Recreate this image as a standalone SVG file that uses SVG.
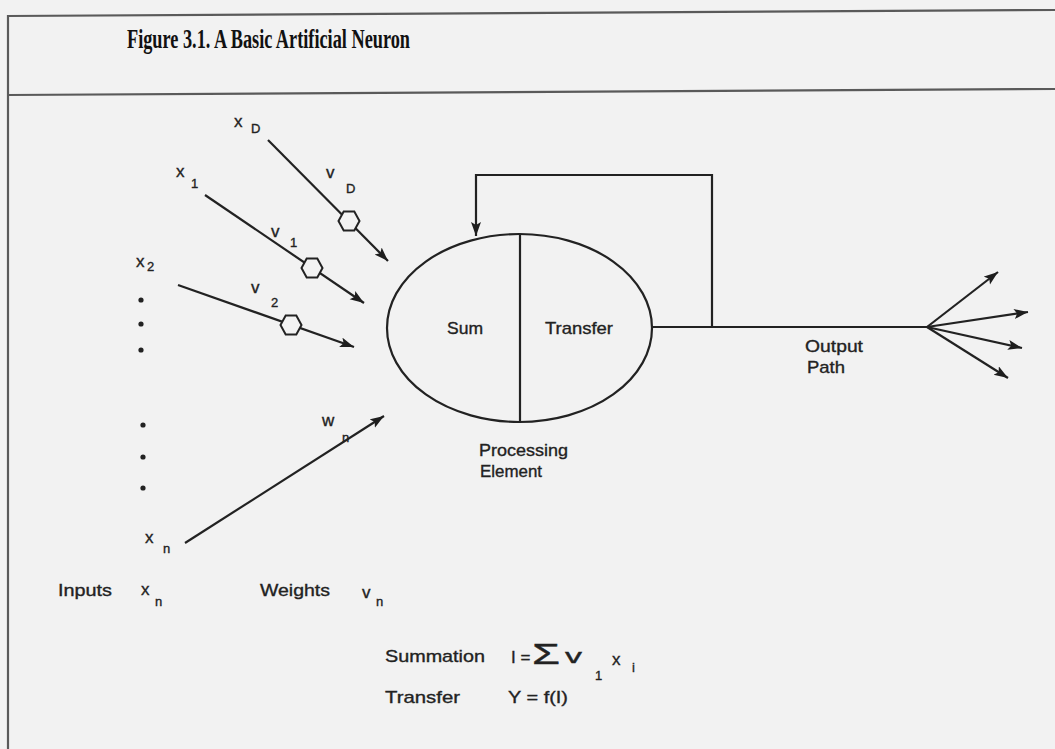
<svg xmlns="http://www.w3.org/2000/svg" width="1055" height="749" viewBox="0 0 1055 749">
<defs>
<marker id="arr" markerUnits="userSpaceOnUse" markerWidth="16" markerHeight="12" refX="14" refY="5" orient="auto">
<path d="M0,0 L14,5 L0,10 L3,5 z" fill="#1e1e1e"/>
</marker>
<style>
.bg{fill:#f2f2f2}
.frame{stroke:#5a5a5a;stroke-width:2.2;fill:none}
.ln{stroke:#222;stroke-width:2.2;fill:none}
.hex{fill:#f2f2f2;stroke:#222;stroke-width:2}
.t{font-family:"Liberation Sans",Arial,sans-serif;font-size:17px;fill:#222;stroke:#222;stroke-width:0.35}
.sym{font-family:"Liberation Sans",Arial,sans-serif;font-size:17px;fill:#222;stroke:#222;stroke-width:0.35}
.sub{font-family:"Liberation Sans",Arial,sans-serif;font-size:13px;fill:#222;stroke:#222;stroke-width:0.35}
.title{font-family:"Liberation Serif","Times New Roman",serif;font-size:28px;font-weight:bold;fill:#111}
.dot{fill:#222}
</style>
</defs>
<rect class="bg" x="0" y="0" width="1055" height="749"/>
<g id="frame">
<line class="frame" x1="8" y1="16" x2="1055" y2="10"/>
<line class="frame" x1="8" y1="95" x2="1055" y2="89"/>
<line class="frame" x1="8" y1="15" x2="8" y2="749"/>
</g>
<g id="title"><text class="title" x="127" y="48" textLength="283" lengthAdjust="spacingAndGlyphs">Figure 3.1. A Basic Artificial Neuron</text></g>

<g id="connectors">
<line class="ln" x1="268" y1="140" x2="388" y2="261" marker-end="url(#arr)"/>
<line class="ln" x1="205" y1="195" x2="364" y2="303" marker-end="url(#arr)"/>
<line class="ln" x1="178" y1="285" x2="354" y2="347" marker-end="url(#arr)"/>
<line class="ln" x1="185" y1="543" x2="384" y2="416" marker-end="url(#arr)"/>
<polyline class="ln" points="652,327 712,327 712,175 476,175 476,236" marker-end="url(#arr)"/>
<line class="ln" x1="712" y1="327" x2="927" y2="327"/>
<line class="ln" x1="927" y1="327" x2="998" y2="272" marker-end="url(#arr)"/>
<line class="ln" x1="927" y1="327" x2="1028" y2="312" marker-end="url(#arr)"/>
<line class="ln" x1="927" y1="327" x2="1022" y2="348" marker-end="url(#arr)"/>
<line class="ln" x1="927" y1="327" x2="1008" y2="378" marker-end="url(#arr)"/>
</g>

<g id="weight-0"><polygon class="hex" points="359.5,221 354.3,230.5 343.7,230.5 338.5,221 343.7,211.5 354.3,211.5"/></g>
<g id="weight-1"><polygon class="hex" points="322.5,268 317.3,277.5 306.7,277.5 301.5,268 306.7,258.5 317.3,258.5"/></g>
<g id="weight-2"><polygon class="hex" points="301.5,325 296.3,334.5 285.7,334.5 280.5,325 285.7,315.5 296.3,315.5"/></g>

<g id="processing-element">
<ellipse class="ln" cx="519.5" cy="328" rx="132.5" ry="94"/>
<line class="ln" x1="520" y1="234" x2="520" y2="422"/>
<text class="t" x="447" y="334" textLength="36" lengthAdjust="spacingAndGlyphs">Sum</text>
<text class="t" x="545" y="334" textLength="68" lengthAdjust="spacingAndGlyphs">Transfer</text>
<text class="t" x="479" y="456" textLength="89" lengthAdjust="spacingAndGlyphs">Processing</text>
<text class="t" x="480" y="477" textLength="62" lengthAdjust="spacingAndGlyphs">Element</text>
</g>

<g id="input-labels">
<text class="sym" x="234" y="127">x</text><text class="sub" x="251" y="133">D</text>
<text class="sym" x="326" y="178">v</text><text class="sub" x="346" y="193">D</text>
<text class="sym" x="176" y="177">x</text><text class="sub" x="191" y="188">1</text>
<text class="sym" x="271" y="237">v</text><text class="sub" x="290" y="247">1</text>
<text class="sym" x="136" y="267">x</text><text class="sub" x="147" y="271">2</text>
<text class="sym" x="251" y="293">v</text><text class="sub" x="271" y="307">2</text>
<text class="sym" x="322" y="426">w</text><text class="sub" x="342" y="442">n</text>
<text class="sym" x="145" y="543">x</text><text class="sub" x="163" y="553">n</text>
<circle class="dot" cx="141" cy="300" r="2.6"/>
<circle class="dot" cx="141" cy="324" r="2.6"/>
<circle class="dot" cx="141" cy="350" r="2.6"/>
<circle class="dot" cx="143" cy="425" r="2.6"/>
<circle class="dot" cx="143" cy="457" r="2.6"/>
<circle class="dot" cx="143" cy="488" r="2.6"/>
</g>

<g id="output-label">
<text class="t" x="805" y="352" textLength="58" lengthAdjust="spacingAndGlyphs">Output</text>
<text class="t" x="807" y="373" textLength="38" lengthAdjust="spacingAndGlyphs">Path</text>
</g>

<g id="legend">
<text class="t" x="58" y="596" textLength="54" lengthAdjust="spacingAndGlyphs">Inputs</text>
<text class="sym" x="141" y="595">x</text><text class="sub" x="155" y="606">n</text>
<text class="t" x="260" y="596" textLength="70" lengthAdjust="spacingAndGlyphs">Weights</text>
<text class="sym" x="362" y="598">v</text><text class="sub" x="376" y="606">n</text>
</g>

<g id="formulas">
<text class="t" x="385" y="662" textLength="100" lengthAdjust="spacingAndGlyphs">Summation</text>
<text class="sym" x="511" y="663">I =</text>
<text x="532" y="664" textLength="28" lengthAdjust="spacingAndGlyphs" style="font-family:'Liberation Sans',Arial,sans-serif;font-size:30px;fill:#222;stroke:#222;stroke-width:0.4">Σ</text>
<text class="sym" x="565" y="663" textLength="17" lengthAdjust="spacingAndGlyphs" style="font-size:20px">v</text>
<text class="sub" x="595" y="680">1</text>
<text class="sym" x="612" y="665">x</text>
<text class="sub" x="632" y="672">i</text>
<text class="t" x="385" y="703" textLength="75" lengthAdjust="spacingAndGlyphs">Transfer</text>
<text class="sym" x="508" y="703" textLength="60" lengthAdjust="spacingAndGlyphs">Y = f(I)</text>
</g>
</svg>
